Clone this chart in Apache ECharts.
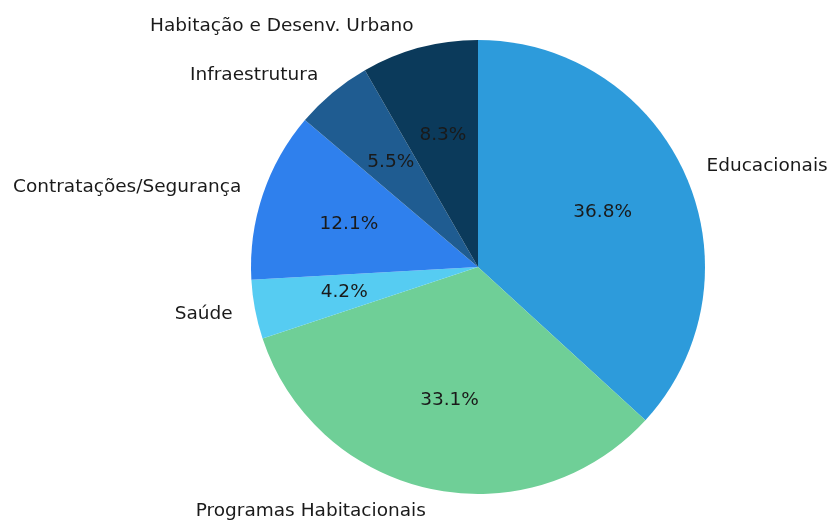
<!DOCTYPE html>
<html>
<head>
<meta charset="utf-8">
<script src="https://cdn.jsdelivr.net/npm/echarts@6/dist/echarts.min.js"></script>
<style>
  html, body { margin: 0; padding: 0; background: #fff; }
  #chart { width: 832px; height: 520px; }
</style>
</head>
<body>
<div id="chart"></div>
<script>
// slices, clockwise from 12 o'clock
const categories = [
  'Educacionais',
  'Programas Habitacionais',
  'Saúde',
  'Contratações/Segurança',
  'Infraestrutura',
  'Habitação e Desenv. Urbano'
];
const shares = [36.8, 33.1, 4.2, 12.1, 5.5, 8.3];
const colors = ['#2d9bdb', '#6fcf97', '#56ccf2', '#2f80ed', '#1f5c91', '#0b3a5b'];

const R = 227;
const center = [478, 267];
const font = { fontFamily: 'DejaVu Sans', fontSize: 18.5, color: '#1a1a1a' };

const chart = echarts.init(document.getElementById('chart'));

const slices = categories.map((name, i) => ({
  name,
  value: shares[i],
  itemStyle: { color: colors[i] }
}));

chart.setOption({
  animation: false,
  series: [
    {
      // the visible pie, with category names outside at 1.1R
      type: 'pie',
      center,
      radius: [0, R],
      startAngle: 90,
      clockwise: true,
      avoidLabelOverlap: false,
      silent: true,
      data: slices,
      label: {
        position: 'outside',
        formatter: '{b}',
        distanceToLabelLine: 0,
        ...font
      },
      labelLine: { show: false, length: R * 0.1, length2: 0 },
      emphasis: { disabled: true }
    },
    {
      // transparent copy, only carries the percentages at 0.6R
      type: 'pie',
      center,
      radius: [0, R * 1.2 - 6],
      startAngle: 90,
      clockwise: true,
      avoidLabelOverlap: false,
      silent: true,
      data: categories.map((name, i) => ({ name, value: shares[i] })),
      itemStyle: { color: 'rgba(0,0,0,0)' },
      label: {
        position: 'inside',
        formatter: (p) => p.percent.toFixed(1) + '%',
        ...font
      },
      labelLine: { show: false },
      emphasis: { disabled: true }
    }
  ]
});
</script>
</body>
</html>
